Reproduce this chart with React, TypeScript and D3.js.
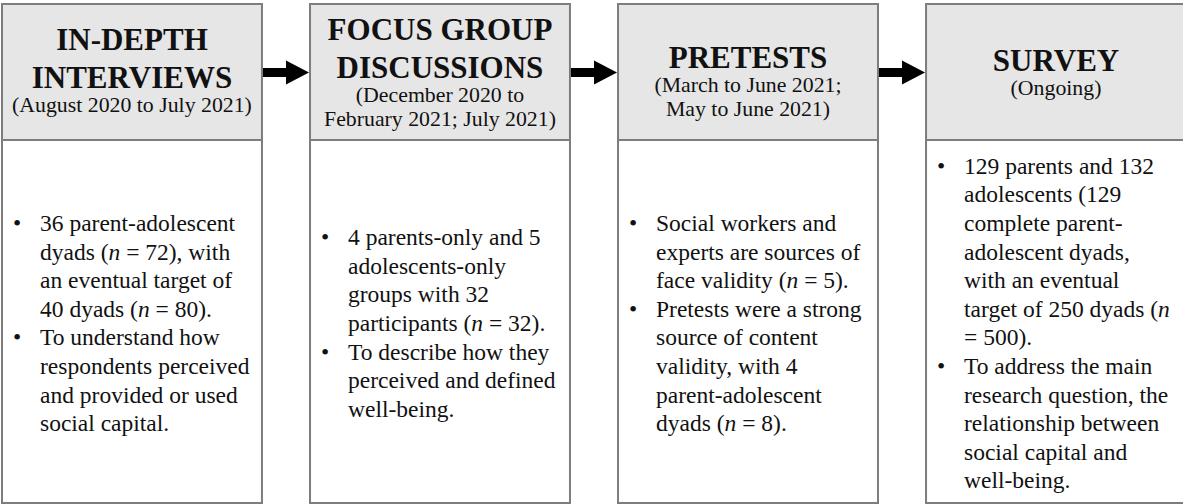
import React from "react";
import * as d3 from "d3";

const W = 1183;
const H = 504;

const stageTitles: string[][] = [
  ["IN-DEPTH", "INTERVIEWS"],
  ["FOCUS GROUP", "DISCUSSIONS"],
  ["PRETESTS"],
  ["SURVEY"],
];

const stagePeriods: string[][] = [
  ["(August 2020 to July 2021)"],
  ["(December 2020 to", "February 2021; July 2021)"],
  ["(March to June 2021;", "May to June 2021)"],
  ["(Ongoing)"],
];

// each stage: list of bullets, each bullet: list of wrapped lines; _x_ marks italics
const stageBullets: string[][][] = [
  [
    ["36 parent-adolescent", "dyads (_n_ = 72), with", "an eventual target of", "40 dyads (_n_ = 80)."],
    ["To understand how", "respondents perceived", "and provided or used", "social capital."],
  ],
  [
    ["4 parents-only and 5", "adolescents-only", "groups with 32", "participants (_n_ = 32)."],
    ["To describe how they", "perceived and defined", "well-being."],
  ],
  [
    ["Social workers and", "experts are sources of", "face validity (_n_ = 5)."],
    ["Pretests were a strong", "source of content", "validity, with 4", "parent-adolescent", "dyads (_n_ = 8)."],
  ],
  [
    ["129 parents and 132", "adolescents (129", "complete parent-", "adolescent dyads,", "with an eventual", "target of 250 dyads (_n_", "= 500)."],
    ["To address the main", "research question, the", "relationship between", "social capital and", "well-being."],
  ],
];

// header first-line baseline per stage (layout)
const headerFirstBaseline: number[] = [50, 40, 68, 71];

const FONT = "'Liberation Serif', 'Times New Roman', Times, serif";
const TITLE_FS = 31;
const SUB_FS = 21.8;
const BODY_FS = 23.5;
const TITLE_LH = 38;
const SUB_GAP = 24;
const SUB_LH = 23.5;
const BODY_LH = 28.6;

function RichLine({ text, x, y }: { text: string; x: number; y: number }) {
  const parts = text.split("_");
  return (
    <text x={x} y={y} fontFamily={FONT} fontSize={BODY_FS} fill="#111">
      {parts.map((p, i) => (
        <tspan key={i} fontStyle={i % 2 === 1 ? "italic" : "normal"}>
          {p}
        </tspan>
      ))}
    </text>
  );
}

export default function App() {
  const idx = d3.range(stageTitles.length);
  const x = d3
    .scaleBand<number>()
    .domain(idx)
    .range([2, 1186])
    .paddingInner(0.156)
    .paddingOuter(0);
  const bw = x.bandwidth();
  const top = 4;
  const divY = 140;
  const bottom = 503;
  const bodyCenter = 331;
  const border = "#7d7d7d";

  return (
    <svg
      width={W}
      height={H}
      style={{ position: "absolute", left: 0, top: 0, display: "block" }}
    >
      <rect x={0} y={0} width={W} height={H} fill="#fff" />
      {idx.map((i) => {
        const x0 = x(i)!;
        const cx = x0 + bw / 2;
        const titles = stageTitles[i];
        const subs = stagePeriods[i];
        const baselines: { t: string; y: number; title: boolean }[] = [];
        let yb = headerFirstBaseline[i];
        titles.forEach((t, k) => {
          if (k > 0) yb += TITLE_LH;
          baselines.push({ t, y: yb, title: true });
        });
        subs.forEach((t, k) => {
          yb += k === 0 ? SUB_GAP : SUB_LH;
          baselines.push({ t, y: yb, title: false });
        });

        const lines: { t: string; bullet: boolean }[] = [];
        stageBullets[i].forEach((b) =>
          b.forEach((l, k) => lines.push({ t: l, bullet: k === 0 }))
        );
        const n = lines.length;
        const firstBase = bodyCenter - ((n - 1) * BODY_LH) / 2;

        return (
          <g key={i}>
            <rect x={x0} y={top} width={bw} height={divY - top} fill="#e6e6e6" />
            <rect
              x={x0}
              y={top}
              width={bw}
              height={bottom - top}
              fill="none"
              stroke={border}
              strokeWidth={2}
            />
            <line x1={x0} x2={x0 + bw} y1={divY} y2={divY} stroke={border} strokeWidth={2} />
            {baselines.map((b, k) => (
              <text
                key={k}
                x={cx}
                y={b.y}
                textAnchor="middle"
                fontFamily={FONT}
                fontWeight={b.title ? "bold" : "normal"}
                fontSize={b.title ? TITLE_FS : SUB_FS}
                fill="#111"
              >
                {b.t}
              </text>
            ))}
            {lines.map((l, k) => (
              <g key={k}>
                {l.bullet && (
                  <text
                    x={x0 + 11}
                    y={firstBase + k * BODY_LH}
                    fontFamily={FONT}
                    fontSize={BODY_FS}
                    fill="#111"
                  >
                    •
                  </text>
                )}
                <RichLine text={l.t} x={x0 + 38} y={firstBase + k * BODY_LH} />
              </g>
            ))}
            {i < idx.length - 1 && (
              <path
                d={(() => {
                  const sx = x0 + bw + 1;
                  const ex = x(i + 1)! - 1;
                  const hx = ex - 23;
                  const cy = 72.5;
                  const p = d3.path();
                  p.moveTo(sx, cy - 4.5);
                  p.lineTo(hx, cy - 4.5);
                  p.lineTo(hx, cy - 12);
                  p.lineTo(ex, cy);
                  p.lineTo(hx, cy + 12);
                  p.lineTo(hx, cy + 4.5);
                  p.lineTo(sx, cy + 4.5);
                  p.closePath();
                  return p.toString();
                })()}
                fill="#000"
              />
            )}
          </g>
        );
      })}
    </svg>
  );
}
